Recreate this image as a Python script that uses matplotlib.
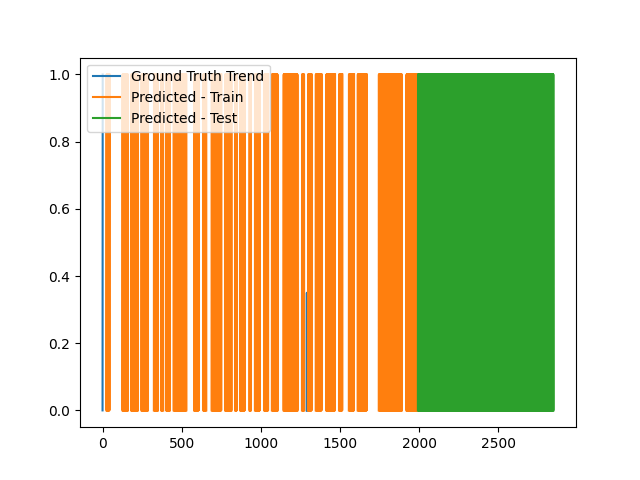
import numpy as np
import matplotlib
matplotlib.use("Agg")
import matplotlib.pyplot as plt

# Series lengths
n_train = 1991
n_total = 2848

# Dense 0/1 switching blocks of the train prediction (start, end) in sample index;
# between blocks the picture shows no line (missing values)
train_blocks = [
    (25, 45), (126, 161), (181, 224), (246, 287), (324, 351), (371, 384),
    (403, 426), (449, 530), (578, 608), (637, 656), (689, 751), (774, 815),
    (837, 849), (869, 899), (928, 937), (962, 994), (1021, 1047),
    (1069, 1106), (1143, 1232), (1259, 1274), (1297, 1321), (1346, 1384),
    (1413, 1469), (1493, 1515), (1555, 1589), (1611, 1669), (1744, 1891),
    (1919, 1991),
]

# Dense 0/1 switching block of the test prediction
test_blocks = [(1991, 2848)]

# Ground truth trend: visible pieces (index, value); NaN separates pieces
gt_x = [0, 1, 2, 1289, 1290, 1291]
gt_y = [0.0, 1.0, np.nan, 0.0, 0.35, 0.0]


def expand(blocks, start, stop):
    idx = np.arange(start, stop)
    vals = np.full(len(idx), np.nan)
    for a, b in blocks:
        m = (idx >= a) & (idx < b)
        vals[m] = (idx[m] - a) % 2
    return idx, vals


tr_x, tr_y = expand(train_blocks, 0, n_train)
te_x, te_y = expand(test_blocks, n_train, n_total)

fig, ax = plt.subplots(figsize=(6.4, 4.8), dpi=100)
ax.plot(gt_x, gt_y, color="#1f77b4", label="Ground Truth Trend")
ax.plot(tr_x, tr_y, color="#ff7f0e", label="Predicted - Train")
ax.plot(te_x, te_y, color="#2ca02c", label="Predicted - Test")
ax.set_xlim(-0.05 * (n_total - 1) * 1.0, (n_total - 1) * 1.05)
ax.legend(loc="upper left")
fig.savefig("out.png", dpi=100)
